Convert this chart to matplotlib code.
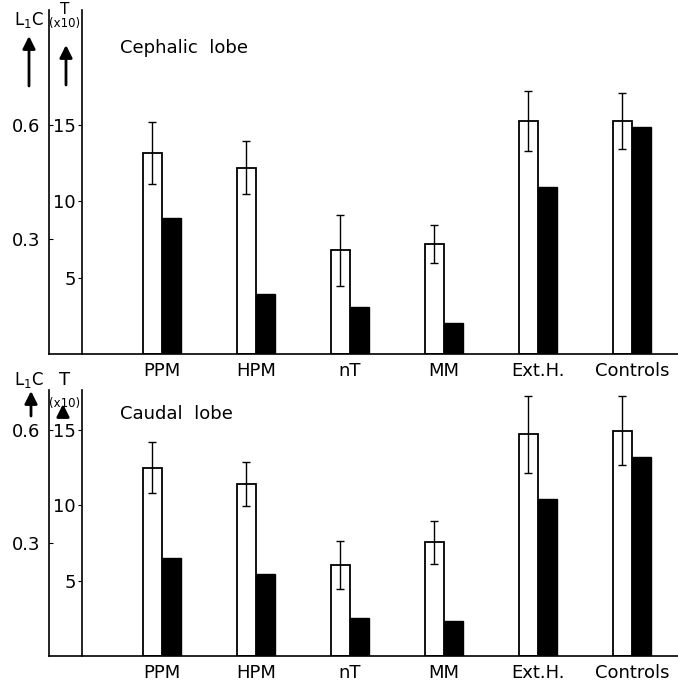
import numpy as np
import matplotlib
matplotlib.use('Agg')
import matplotlib.pyplot as plt
from matplotlib.patches import FancyArrowPatch

categories = ['PPM', 'HPM', 'nT', 'MM', 'Ext.H.', 'Controls']

# labelling index (L1C), white bars with error bars
ceph_l1c = [0.526, 0.487, 0.271, 0.288, 0.610, 0.610]
ceph_l1c_err = [0.082, 0.069, 0.093, 0.049, 0.078, 0.074]
caud_l1c = [0.500, 0.457, 0.242, 0.302, 0.589, 0.598]
caud_l1c_err = [0.067, 0.059, 0.063, 0.057, 0.102, 0.092]

# T (x10), black bars
ceph_t = [8.9, 3.9, 3.1, 2.0, 10.9, 14.85]
caud_t = [6.5, 5.45, 2.55, 2.3, 10.45, 13.2]

W, H = 678, 681
fig = plt.figure(figsize=(W / 100, H / 100), dpi=100)
FS = 13


def panel(top_px, base_px, tmax, l1c, l1c_err, tvals, title, title_px):
    ax = fig.add_axes([49 / W, 1 - base_px / H, 1 - 49 / W, (base_px - top_px) / H])
    x = np.arange(len(categories))
    w = 0.202
    ax.set_xlim(-1.198, 5.49)
    ax.set_ylim(0, tmax / 25.0)
    ax.bar(x - w / 2, l1c, w, color='white', edgecolor='black', linewidth=1.3)
    ax.errorbar(x - w / 2, l1c, yerr=l1c_err, fmt='none', ecolor='black',
                elinewidth=1, capsize=3, capthick=1)
    ax.set_xticks(x)
    ax.set_xticklabels(categories, fontsize=FS)
    ax.tick_params(axis='x', length=0, pad=6)
    ax.set_yticks([0.3, 0.6])
    ax.set_yticklabels(['0.3', '0.6'], fontsize=FS)
    ax.tick_params(axis='y', direction='in', length=3, pad=6)
    for s in ['top', 'right']:
        ax.spines[s].set_visible(False)
    ax.spines['left'].set_linewidth(1.2)
    ax.spines['bottom'].set_linewidth(1.2)

    ax2 = ax.twinx()
    ax2.set_ylim(0, tmax)
    ax2.bar(x + w / 2, tvals, w, color='black', edgecolor='black', linewidth=1)
    ax2.yaxis.tick_left()
    ax2.spines['left'].set_position(('axes', (82 - 49) / (W - 49)))
    ax2.spines['left'].set_linewidth(1.2)
    for s in ['top', 'right', 'bottom']:
        ax2.spines[s].set_visible(False)
    ax2.set_yticks([5, 10, 15])
    ax2.set_yticklabels(['5', '10', '15'], fontsize=FS)
    ax2.tick_params(axis='y', direction='out', length=3, pad=1.5)

    fig.text(120 / W, 1 - title_px / H, title, fontsize=FS,
             va='center', ha='left')
    return ax, ax2


panel(10, 354, 22.5, ceph_l1c, ceph_l1c_err, ceph_t, 'Cephalic  lobe', 48)
panel(390, 656, 17.65, caud_l1c, caud_l1c_err, caud_t, 'Caudal  lobe', 414)


# axis headings with arrows
def head(y_l, y_t, y_x10, fs_t, arr_l, arr_t):
    fig.text(29 / W, 1 - y_l / H, 'L$_1$C', fontsize=12, ha='center', va='center')
    fig.text(65 / W, 1 - y_t / H, 'T', fontsize=fs_t, ha='center', va='center')
    fig.text(65 / W, 1 - y_x10 / H, '(x10)', fontsize=8.5, ha='center', va='center')
    for xp, (y0, y1) in [arr_l, arr_t]:
        fig.add_artist(FancyArrowPatch(
            (xp / W, 1 - y0 / H), (xp / W, 1 - y1 / H), transform=fig.transFigure,
            arrowstyle='-|>,head_length=5,head_width=2.5', color='black', lw=2,
            mutation_scale=1.5, shrinkA=0, shrinkB=0))


head(20, 10, 24, 11, (29, (86, 36)), (66, (85, 45)))
head(380, 380, 403, 13, (31, (416, 391)), (63, (414, 404)))

plt.savefig('out.png', dpi=100)
